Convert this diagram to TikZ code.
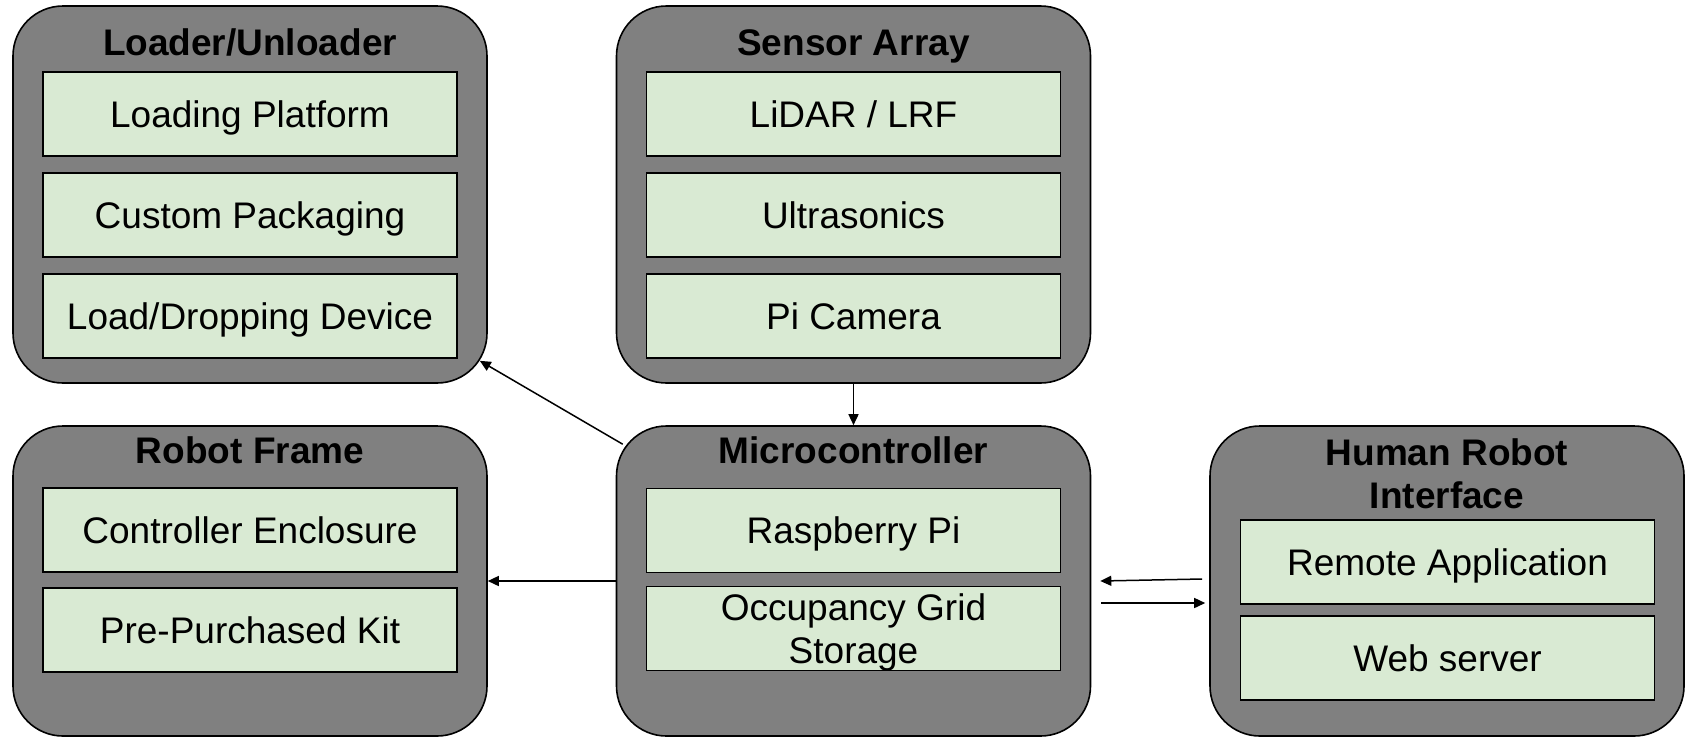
\documentclass[tikz,border=0pt]{standalone}
\usepackage{fontspec}
\setmainfont{Liberation Sans}
\usetikzlibrary{calc,arrows.meta}
\definecolor{boxgray}{HTML}{808080}
\definecolor{partgreen}{HTML}{D9EAD3}
\tikzset{
  outerbox/.style={draw=black, line width=1.6pt, fill=boxgray, rounded corners=50pt,
    minimum width=474pt, inner sep=0pt},
  toprow/.style={outerbox, minimum height=377pt},
  botrow/.style={outerbox, minimum height=310pt},
  part/.style={draw=black, line width=1.4pt, fill=partgreen, minimum width=414pt,
    minimum height=84pt, inner sep=0pt, text height=26.5pt, text depth=0pt,
    font=\fontsize{37}{43}\selectfont},
  part2/.style={part, align=center, text height=69.5pt},
  title/.style={anchor=base, inner sep=0pt, align=center,
    font=\fontsize{37}{43.5}\selectfont\bfseries},
  arr/.style={line width=1.5pt, -{Triangle[length=11pt,width=10pt]}}
}
\begin{document}
\begin{tikzpicture}[x=1pt, y=-1pt]
\useasboundingbox (0,0) rectangle (1685,737);

% subsystem containers
\node[toprow] (loader) at (250,194.5) {};
\node[toprow] (sensor) at (853.5,194.5) {};
\node[botrow] (robot)  at (250,581) {};
\node[botrow] (micro)  at (853.5,581) {};
\node[botrow] (hri)    at (1447,581) {};

% container titles (base anchor sits on the last line)
\node[title] (loaderT) at (250,55) {Loader/Unloader};
\node[title] (sensorT) at (853.5,55) {Sensor Array};
\node[title] (robotT)  at (250,463) {Robot Frame};
\node[title] (microT)  at (853.5,463) {Microcontroller};
\node[title] (hriT)    at (1447,508.5) {Human Robot\\Interface};

% components
\node[part] (lp) at (250,114)   {Loading Platform};
\node[part] (cp) at (250,215)   {Custom Packaging};
\node[part] (ld) at (250,316)   {Load/Dropping Device};

\node[part] (li) at (853.5,114) {LiDAR / LRF};
\node[part] (us) at (853.5,215) {Ultrasonics};
\node[part] (pc) at (853.5,316) {Pi Camera};

\node[part] (ce) at (250,530)   {Controller Enclosure};
\node[part] (pk) at (250,630)   {Pre-Purchased Kit};

\node[part]  (rp) at (853.5,530.5) {Raspberry Pi};
\node[part2] (og) at (853.5,628.5) {Occupancy Grid\\Storage};

\node[part] (ra) at (1447.5,562) {Remote Application};
\node[part] (ws) at (1447.5,658) {Web server};

% connectors
\coordinate (mlFrom) at ($(micro.north west)+(7,19)$);
\coordinate (mlTo)   at ($(loader.south east)+(-8,-23)$);
\coordinate (hmFrom) at ($(hri.west)+(-7,-2)$);
\coordinate (hmTo)   at ($(micro.east)+(9,0)$);
\coordinate (mhFrom) at ($(micro.east)+(10,22)$);
\coordinate (mhTo)   at ($(hri.west)+(-4,22)$);

\draw[arr] (sensor) -- (micro);
\draw[arr] (mlFrom) -- (mlTo);
\draw[arr] (micro.west) -- (robot.east);
\draw[arr] (hmFrom) -- (hmTo);
\draw[arr] (mhFrom) -- (mhTo);
\end{tikzpicture}
\end{document}
